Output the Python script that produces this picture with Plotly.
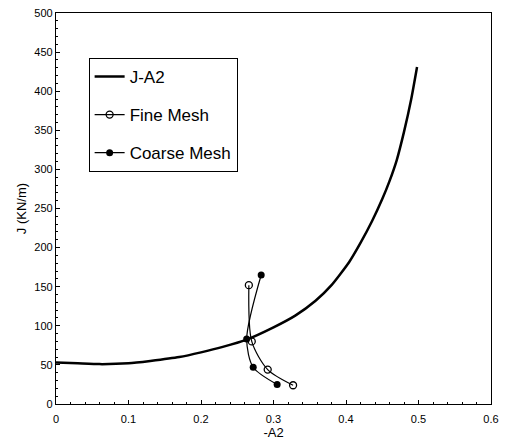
import plotly.graph_objects as go

# J-A2 curve
curve_a2 = [0, 0.03, 0.06, 0.10, 0.13, 0.17, 0.20, 0.23, 0.262, 0.30, 0.33, 0.358,
            0.38, 0.404, 0.42, 0.436, 0.45, 0.46, 0.47, 0.48, 0.49, 0.498]
curve_j = [53, 52, 51, 52, 55, 60, 66, 73, 82, 98, 113, 132,
           152, 181, 206, 234, 262, 285, 312, 348, 390, 431]

# Fine mesh (open circles)
fine_a2 = [0.266, 0.270, 0.292, 0.327]
fine_j = [152, 80, 44, 24]

# Coarse mesh (filled circles)
coarse_a2 = [0.283, 0.263, 0.272, 0.305]
coarse_j = [165, 83, 47, 25]

x_ticks = [0, 0.1, 0.2, 0.3, 0.4, 0.5, 0.6]
y_ticks = [0, 50, 100, 150, 200, 250, 300, 350, 400, 450, 500]

FONT = "Liberation Sans, Arial, sans-serif"

fig = go.Figure()
fig.add_trace(go.Scatter(
    x=curve_a2, y=curve_j, mode="lines", name="J-A2",
    line=dict(color="black", width=2.5, shape="spline", smoothing=0.5),
    legendgroup="a"))
fig.add_trace(go.Scatter(
    x=fine_a2, y=fine_j, mode="lines+markers", name="Fine Mesh",
    line=dict(color="black", width=1.2, shape="spline", smoothing=0.8),
    marker=dict(symbol="circle-open", size=7, color="black", line=dict(width=1.3)),
    legendgroup="b"))
fig.add_trace(go.Scatter(
    x=coarse_a2, y=coarse_j, mode="lines+markers", name="Coarse Mesh",
    line=dict(color="black", width=1.2, shape="spline", smoothing=0.8),
    marker=dict(symbol="circle", size=7, color="black"),
    legendgroup="c"))

axis_common = dict(
    showline=True, linecolor="black", linewidth=1.2, mirror=True,
    showgrid=False, zeroline=False,
    ticks="inside", ticklen=4, tickcolor="black",
    tickfont=dict(family=FONT, size=11, color="black"),
)

fig.update_xaxes(
    range=[0, 0.6], tickvals=x_ticks, ticktext=[str(v) for v in x_ticks],
    ticklabelstandoff=5,
    title=dict(text="-A2", font=dict(family=FONT, size=13, color="black"), standoff=2),
    minor=dict(ticks="inside", ticklen=2, dtick=0.02, tickcolor="black"),
    **axis_common)
fig.update_yaxes(
    range=[0, 500], tickvals=y_ticks,
    title=dict(text="J (KN/m)", font=dict(family=FONT, size=13, color="black"), standoff=4),
    minor=dict(ticks="inside", ticklen=2, dtick=10, tickcolor="black"),
    **axis_common)

fig.update_layout(
    width=506, height=447,
    margin=dict(l=56, r=13, t=7, b=43),
    paper_bgcolor="white", plot_bgcolor="white",
    showlegend=True,
    legend=dict(
        x=0.075, y=0.885, xanchor="left", yanchor="top",
        bordercolor="black", borderwidth=1, bgcolor="white",
        font=dict(family=FONT, size=17, color="black"),
        itemwidth=30, tracegroupgap=13,
    ),
)

fig.write_html("out.html")
